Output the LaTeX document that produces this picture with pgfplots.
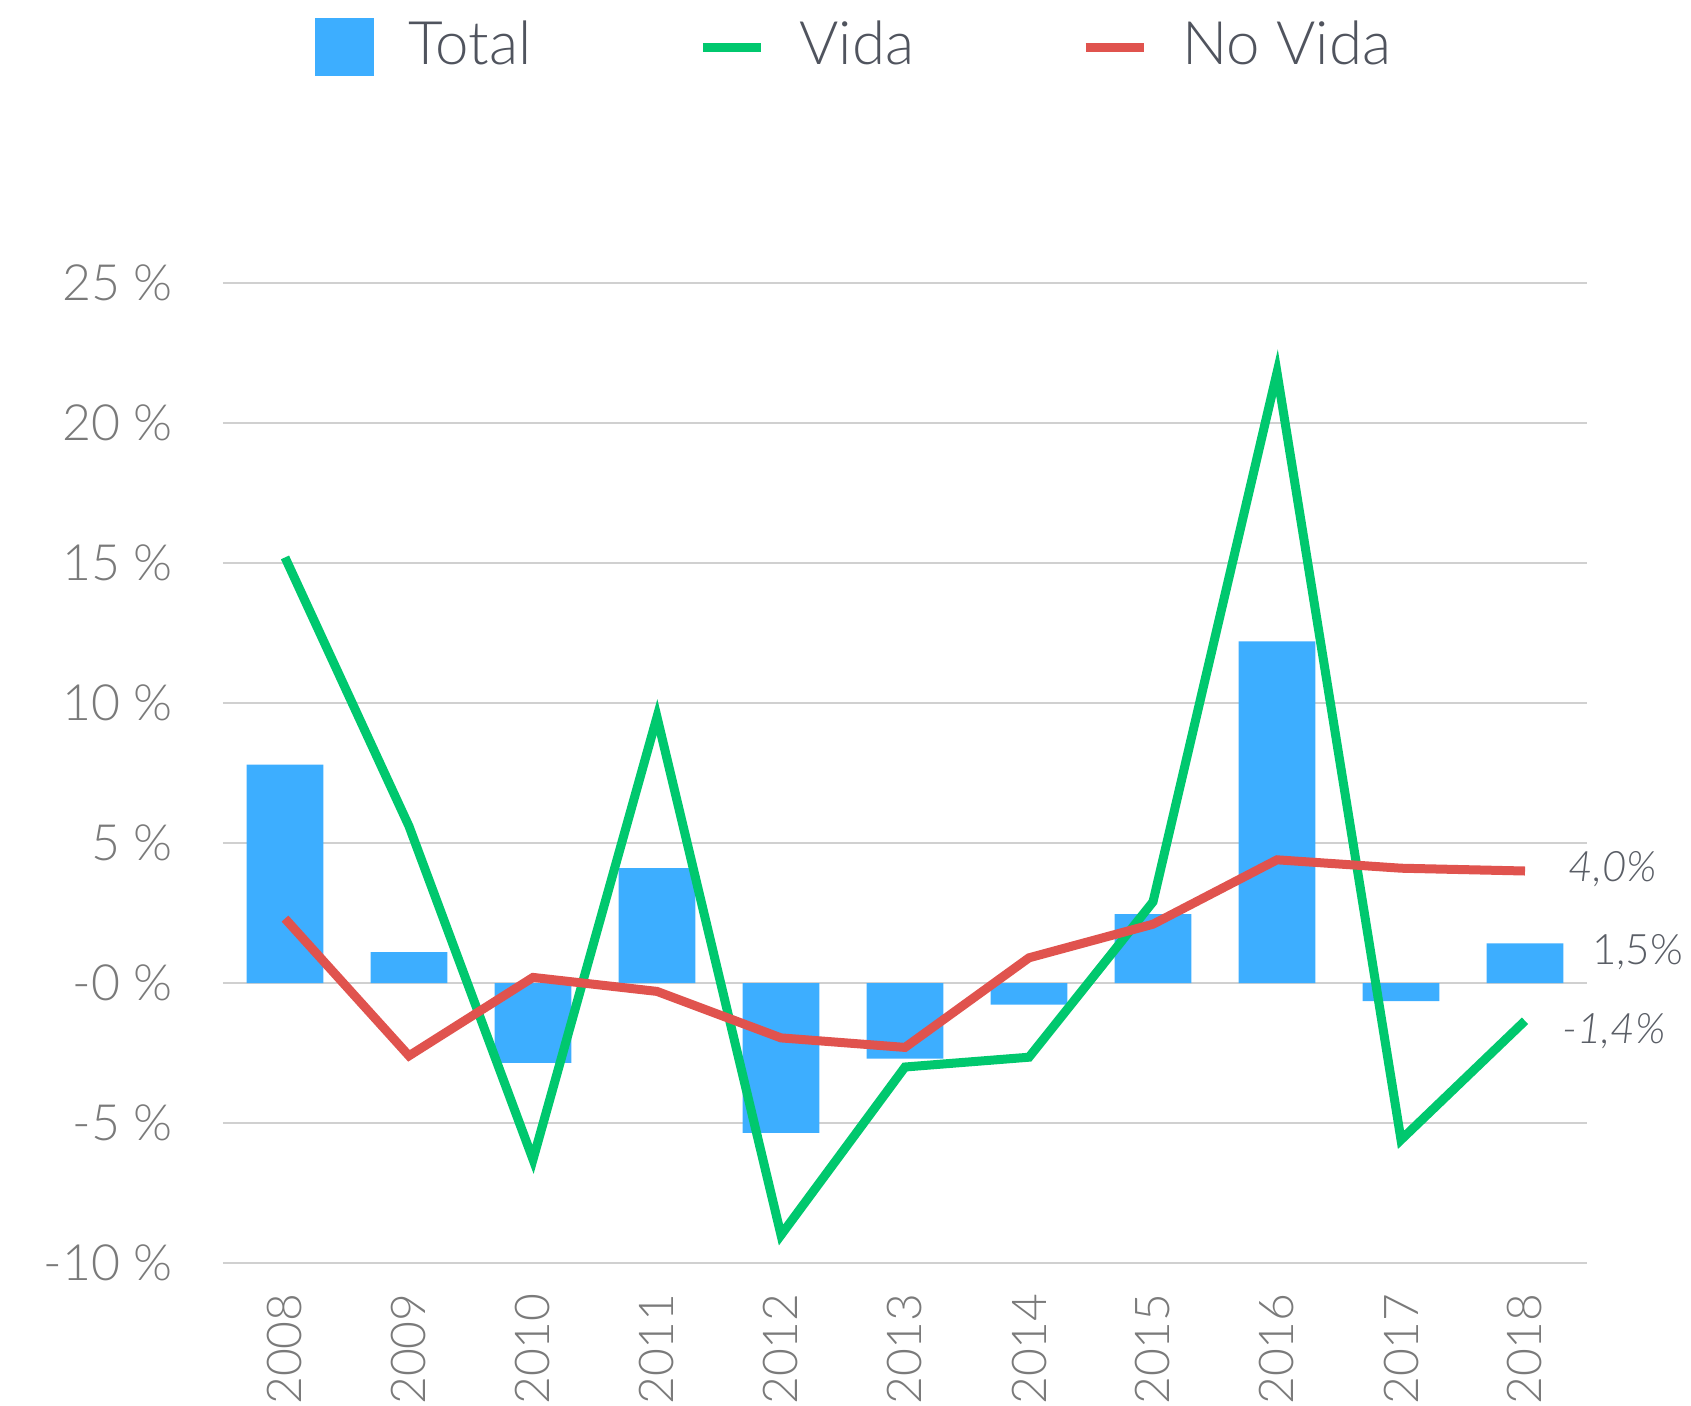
\documentclass[border=0pt]{standalone}
\usepackage{fontspec}
\setmainfont{Lato}[UprightFont=* Light, ItalicFont=* Light Italic]
\usepackage{pgfplots}
\pgfplotsset{compat=1.18}
\definecolor{cBlue}{HTML}{3DAEFF}
\definecolor{cGreen}{HTML}{00C86E}
\definecolor{cRed}{HTML}{E0534E}
\definecolor{legText}{HTML}{50545E}
\definecolor{tickText}{HTML}{7A7A7A}
\definecolor{labText}{HTML}{5A5E66}
\definecolor{gridC}{HTML}{D0D0D0}
\begin{document}
\begin{tikzpicture}
\path[use as bounding box] (-111.5pt,-71pt) rectangle (734pt,631.5pt);
\begin{axis}[
  at={(0,0)}, anchor=south west,
  scale only axis, width=682pt, height=490pt,
  xmin=-0.5, xmax=10.5, ymin=-10, ymax=25,
  axis line style={draw=none},
  major tick length=0pt,
  ymajorgrids, grid style={gridC, line width=0.75pt},
  ytick={-10,-5,0,5,10,15,20,25},
  yticklabels={-10 \%,-5 \%,-0 \%,5 \%,10 \%,15 \%,20 \%,25 \%},
  xtick={0,1,2,3,4,5,6,7,8,9,10},
  xticklabels={2008,2009,2010,2011,2012,2013,2014,2015,2016,2017,2018},
  yticklabel style={font=\fontsize{25}{30}\selectfont, text=tickText, anchor=east, inner xsep=25pt, inner ysep=0pt},
  xticklabel style={font=\fontsize{24}{30}\selectfont, text=tickText, rotate=90, anchor=east, inner xsep=15pt, inner ysep=0pt},
  clip=false,
  legend columns=3,
  legend cell align=left,
  legend style={at={(0.0674,1.2708)}, anchor=north west, draw=none, fill=none, inner sep=0pt,
    nodes={inner sep=0pt}, font=\fontsize{30}{36}\selectfont, text=legText,
    /tikz/every odd column/.append style={column sep=17pt},
    /tikz/every even column/.append style={column sep=83.5pt}},
]
\addplot[fill=cBlue, draw=none, ybar, bar width=38.3pt,
  legend image code/.code={\fill[cBlue] (0pt,-15.7pt) rectangle (29.5pt,13.3pt);}]
  coordinates {(0,7.8) (1,1.1) (2,-2.85) (3,4.1) (4,-5.35) (5,-2.7) (6,-0.77) (7,2.46) (8,12.2) (9,-0.65) (10,1.42)};
\addlegendentry{Total}
\addplot[cGreen, line width=4.5pt, line join=miter, line cap=butt,
  legend image code/.code={\draw[cGreen, line width=4.5pt] (0pt,-1.2pt) -- (29pt,-1.2pt);}]
  coordinates {(0,15.2) (1,5.6) (2,-6.3) (3,9.5) (4,-9.0) (5,-3.0) (6,-2.65) (7,2.9) (8,21.8) (9,-5.6) (10,-1.35)};
\addlegendentry{Vida}
\addplot[cRed, line width=4.5pt, line join=miter, line cap=butt,
  legend image code/.code={\draw[cRed, line width=4.5pt] (0pt,-1.2pt) -- (29pt,-1.2pt);}]
  coordinates {(0,2.3) (1,-2.6) (2,0.2) (3,-0.3) (4,-1.96) (5,-2.3) (6,0.9) (7,2.1) (8,4.4) (9,4.1) (10,4.0)};
\addlegendentry{No Vida}
\node[anchor=west, inner sep=0pt, font=\itshape\fontsize{21}{25}\selectfont, text=labText] at (axis cs:10.35,4.08) {4,0\%};
\node[anchor=west, inner sep=0pt, font=\fontsize{21}{25}\selectfont, text=labText] at (axis cs:10.54,1.1) {1,5\%};
\node[anchor=west, inner sep=0pt, font=\itshape\fontsize{21}{25}\selectfont, text=labText] at (axis cs:10.30,-1.73) {-1,4\%};
\end{axis}
\end{tikzpicture}
\end{document}
